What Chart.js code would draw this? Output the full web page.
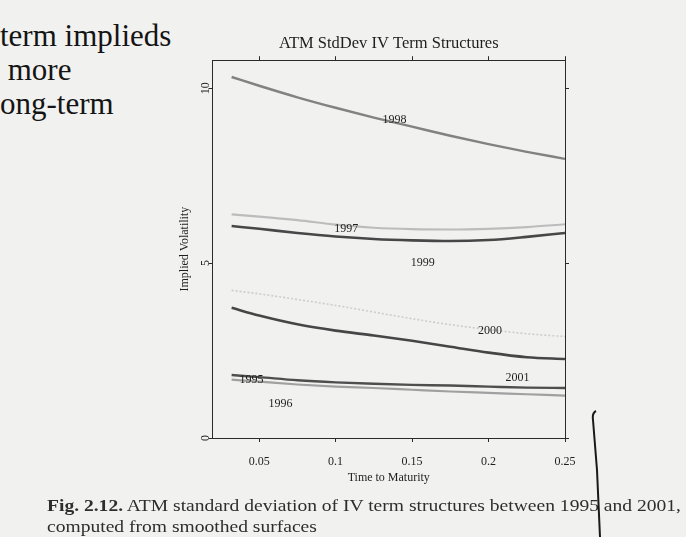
<!DOCTYPE html>
<html>
<head>
<meta charset="utf-8">
<script src="https://cdn.jsdelivr.net/npm/chart.js@4.4.1/dist/chart.umd.min.js"></script>
<style>
  html, body { margin: 0; padding: 0; }
  body { width: 686px; height: 537px; background: #f1f1f0; position: relative; overflow: hidden; }
  #chart { position: absolute; left: 0; top: 0; }
  .page { position: absolute; font-family: 'Liberation Serif', serif; color: #141414; white-space: nowrap; }
  #note { left: 0; top: 19px; font-size: 31px; line-height: 34px; }
  #caption { left: 47px; top: 495px; font-size: 17px; line-height: 21px; color: #2e2e2e; transform-origin: 0 0; }
  #pen { position: absolute; left: 0; top: 0; }
</style>
</head>
<body>
<div id="note" class="page">term implieds<br>&nbsp;more<br>ong-term</div>
<canvas id="chart" width="686" height="537"></canvas>
<div id="caption" class="page"><span id="cap1"><b>Fig. 2.12.</b> ATM standard deviation of IV term structures between 1995 and 2001,</span><br>computed from smoothed surfaces</div>
<svg id="pen" width="686" height="537"><path d="M596 411 Q592 413 593 420 L597 470 L600 537" fill="none" stroke="#1a1a1a" stroke-width="2"/></svg>
<script>
// time to maturity (years)
var maturities = [0.032, 0.05, 0.075, 0.1, 0.125, 0.15, 0.175, 0.2, 0.225, 0.25];

// ATM std dev of implied vol, one array per year
var iv1995 = [1.80, 1.74, 1.65, 1.59, 1.55, 1.52, 1.50, 1.47, 1.44, 1.43];
var iv1996 = [1.67, 1.61, 1.53, 1.47, 1.43, 1.38, 1.33, 1.29, 1.25, 1.21];
var iv1997 = [6.39, 6.33, 6.23, 6.10, 6.01, 5.97, 5.96, 5.98, 6.03, 6.11];
var iv1998 = [10.32, 10.07, 9.74, 9.44, 9.16, 8.90, 8.64, 8.40, 8.18, 7.98];
var iv1999 = [6.06, 5.98, 5.86, 5.76, 5.69, 5.65, 5.63, 5.66, 5.75, 5.86];
var iv2000 = [4.22, 4.12, 3.96, 3.79, 3.60, 3.41, 3.24, 3.10, 2.98, 2.90];
var iv2001 = [3.72, 3.50, 3.25, 3.07, 2.93, 2.78, 2.61, 2.44, 2.31, 2.26];

var years = ['1995', '1996', '1997', '1998', '1999', '2000', '2001'];
var series = [iv1995, iv1996, iv1997, iv1998, iv1999, iv2000, iv2001];

// where each year's label sits (maturity, vol)
var labelMaturity = [0.045, 0.064, 0.107, 0.1385, 0.157, 0.201, 0.219];
var labelVol = [1.67, 0.97, 5.98, 9.09, 5.01, 3.05, 1.73];

var xTicks = [0.05, 0.1, 0.15, 0.2, 0.25];
var yTicks = [0, 5, 10];

var lineColors = ['#4e4e4e', '#a0a0a0', '#bcbcbc', '#828282', '#474747', '#cdcdcd', '#464646'];
var lineWidths = [2.4, 2.2, 2.2, 2.4, 2.6, 1.6, 2.6];
var lineDash = [[], [], [], [], [], [2, 2], []];

var serif = 'Liberation Serif';

var datasets = series.map(function(vals, i) {
    return {
        label: years[i],
        data: vals.map(function(v, j) { return { x: maturities[j], y: v }; }),
        borderColor: lineColors[i],
        borderWidth: lineWidths[i],
        borderDash: lineDash[i],
        pointRadius: 0,
        fill: false,
        cubicInterpolationMode: 'monotone'
    };
});

var curveLabels = {
    id: 'curveLabels',
    afterDatasetsDraw: function(chart) {
        var ctx = chart.ctx;
        ctx.save();
        ctx.font = '12px ' + serif;
        ctx.fillStyle = '#1e1e1e';
        ctx.textAlign = 'center';
        ctx.textBaseline = 'middle';
        years.forEach(function(y, i) {
            ctx.fillText(y, chart.scales.x.getPixelForValue(labelMaturity[i]), chart.scales.y.getPixelForValue(labelVol[i]));
        });
        ctx.restore();
    }
};

var frame = { color: '#2a2a2a', width: 1 };
var tickGrid = { drawOnChartArea: false, drawTicks: true, tickLength: 4, tickColor: '#2a2a2a' };

new Chart(document.getElementById('chart').getContext('2d'), {
    type: 'line',
    data: { datasets: datasets },
    plugins: [curveLabels],
    options: {
        responsive: false,
        animation: false,
        layout: { padding: { left: 162.5, right: 116, top: 33.4, bottom: 49 } },
        plugins: {
            legend: { display: false },
            tooltip: { enabled: false },
            title: {
                display: true,
                text: 'ATM StdDev IV Term Structures',
                fullSize: false,
                color: '#1e1e1e',
                font: { family: serif, size: 16.5, weight: 'normal' },
                padding: { top: 0, bottom: 2 }
            }
        },
        scales: {
            x: {
                type: 'linear',
                min: 0.0195,
                max: 0.25,
                afterBuildTicks: function(s) { s.ticks = xTicks.map(function(v) { return { value: v }; }); },
                afterFit: function(s) { s.height = 50; },
                ticks: { color: '#1e1e1e', font: { family: serif, size: 12 }, padding: 13, maxRotation: 0,
                    callback: function(v) { return String(v); } },
                grid: tickGrid,
                border: frame,
                title: { display: true, text: 'Time to Maturity', color: '#1e1e1e',
                    font: { family: serif, size: 12 }, padding: { top: 0, bottom: 2.8 } }
            },
            x2: {
                type: 'linear',
                position: 'top',
                min: 0.0195,
                max: 0.25,
                afterBuildTicks: function(s) { s.ticks = xTicks.map(function(v) { return { value: v }; }); },
                afterFit: function(s) { s.height = 5; },
                ticks: { display: false },
                grid: tickGrid,
                border: frame
            },
            y: {
                type: 'linear',
                min: 0,
                max: 10.8,
                afterBuildTicks: function(s) { s.ticks = yTicks.map(function(v) { return { value: v }; }); },
                afterFit: function(s) { s.width = 50; },
                ticks: { color: '#1e1e1e', font: { family: serif, size: 12 }, padding: -3,
                    minRotation: 90, maxRotation: 90, crossAlign: 'center' },
                grid: tickGrid,
                border: frame,
                title: { display: true, text: 'Implied Volatility', color: '#1e1e1e',
                    font: { family: serif, size: 12 }, padding: { top: 15.3, bottom: 0 } }
            },
            y2: {
                type: 'linear',
                position: 'right',
                min: 0,
                max: 10.8,
                afterBuildTicks: function(s) { s.ticks = yTicks.map(function(v) { return { value: v }; }); },
                afterFit: function(s) { s.width = 5; },
                ticks: { display: false },
                grid: tickGrid,
                border: frame
            }
        }
    }
});

// stretch the caption to the printed line length
var cap = document.getElementById('caption');
var w = document.getElementById('cap1').getBoundingClientRect().width;
cap.style.transform = 'scaleX(' + (634 / w) + ')';
</script>
</body>
</html>
